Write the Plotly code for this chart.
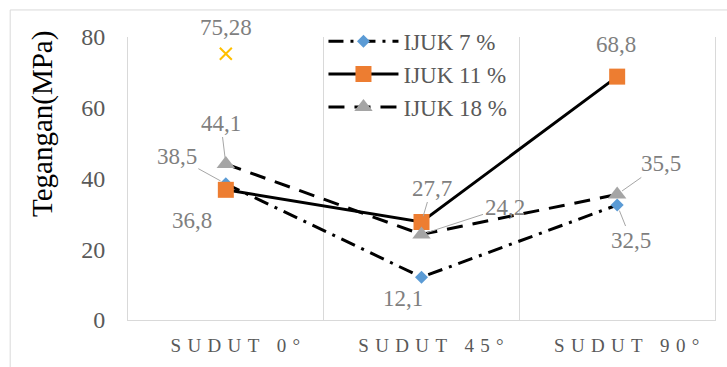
import plotly.graph_objects as go

# Sudut serat (kategori sumbu X)
categories = ["SUDUT 0°", "SUDUT 45°", "SUDUT 90°"]

# Tegangan (MPa) tiap variasi kadar ijuk
ijuk_7 = [38.5, 12.1, 32.5]
ijuk_11 = [36.8, 27.7, 68.8]
ijuk_18 = [44.1, 24.2, 35.5]

# Titik tunggal pada sudut 0°
extra_category = ["SUDUT 0°"]
extra_value = [75.28]

y_ticks = [0, 20, 40, 60, 80]

FONT = "Liberation Serif"
LABEL_GREY = "#7f7f7f"
TICK_GREY = "#595959"
GRID = "#d9d9d9"


def fmt(v):
    return f"{v:g}".replace(".", ",")


def spaced(text):
    # widen letter spacing of the category labels
    return "\u2003" + "\u2005\u200a".join(text)


fig = go.Figure()

fig.add_trace(go.Scatter(
    x=categories, y=ijuk_7, name="IJUK 7 %", mode="lines+markers",
    line=dict(color="black", width=3, dash="15px,7px,3px,7px"),
    marker=dict(symbol="diamond", size=10, color="#5b9bd5"),
))
fig.add_trace(go.Scatter(
    x=categories, y=ijuk_11, name="IJUK 11 %", mode="lines+markers",
    line=dict(color="black", width=3),
    marker=dict(symbol="square", size=16, color="#ed7d31"),
))
fig.add_trace(go.Scatter(
    x=categories, y=ijuk_18, name="IJUK 18 %", mode="lines+markers",
    line=dict(color="black", width=3, dash="16px,10px"),
    marker=dict(symbol="triangle-up", size=16, color="#a5a5a5"),
))
fig.add_trace(go.Scatter(
    x=extra_category, y=extra_value, mode="markers", showlegend=False,
    marker=dict(symbol="x-thin", size=12, color="#ffc000",
                line=dict(color="#ffc000", width=2)),
))

# label offsets (px) and whether a leader line is drawn
label_style = {
    ("7", 0): (-49, -27, True), ("7", 1): (-19, 21, False), ("7", 2): (14, 35, True),
    ("11", 0): (-34, 31, False), ("11", 1): (10, -34, True), ("11", 2): (-1, -32, False),
    ("18", 0): (-5, -41, True), ("18", 1): (83, -27, True), ("18", 2): (44, -31, True),
}
series = {"7": ijuk_7, "11": ijuk_11, "18": ijuk_18}

for key, vals in series.items():
    for i, v in enumerate(vals):
        ax, ay, leader = label_style[(key, i)]
        fig.add_annotation(
            x=categories[i], y=v, text=fmt(v), showarrow=True,
            ax=ax, ay=ay, arrowhead=0, arrowwidth=1, standoff=6,
            arrowcolor="#a6a6a6" if leader else "rgba(0,0,0,0)",
            font=dict(family=FONT, size=23, color=LABEL_GREY),
        )

for c, v in zip(extra_category, extra_value):
    fig.add_annotation(
        x=c, y=v, text=fmt(v), showarrow=False, yshift=26,
        font=dict(family=FONT, size=23, color=LABEL_GREY),
    )

# vertical axis title
fig.add_annotation(
    xref="paper", yref="paper", x=-0.1446, y=0.693, text="Tegangan(MPa)",
    textangle=-90, showarrow=False, xanchor="center", yanchor="middle",
    font=dict(family=FONT, size=29, color="black"),
)

# chart area border
fig.add_shape(
    type="rect", xref="paper", yref="paper",
    x0=-0.2007, x1=1.03, y0=-0.2, y1=1.0956,
    line=dict(color=GRID, width=1), fillcolor="rgba(0,0,0,0)", layer="below",
)

fig.update_layout(
    width=727, height=367,
    margin=dict(l=128, r=11, t=37, b=37),
    paper_bgcolor="white", plot_bgcolor="white",
    legend=dict(
        x=0.333, y=1.061, xanchor="left", yanchor="top",
        bgcolor="rgba(0,0,0,0)", borderwidth=0, itemwidth=70,
        font=dict(family=FONT, size=23, color=TICK_GREY),
        tracegroupgap=0,
    ),
    xaxis=dict(
        type="category", categoryorder="array", categoryarray=categories,
        range=[-0.5, 2.5], autorange=False,
        tickmode="array", tickvals=categories,
        ticktext=[spaced(c) for c in categories],
        tickson="boundaries", showgrid=True, gridcolor=GRID, gridwidth=1,
        showline=True, linecolor=GRID, linewidth=1, ticks="",
        tickfont=dict(family=FONT, size=19, color=TICK_GREY),
        ticklabelstandoff=8, zeroline=False,
    ),
    yaxis=dict(
        range=[0, 80], tickvals=y_ticks, showgrid=False, zeroline=False,
        showline=True, mirror=True, linecolor=GRID, linewidth=1, ticks="",
        tickfont=dict(family=FONT, size=24, color=TICK_GREY),
        ticklabelstandoff=17,
    ),
)

fig.write_html("out.html")
